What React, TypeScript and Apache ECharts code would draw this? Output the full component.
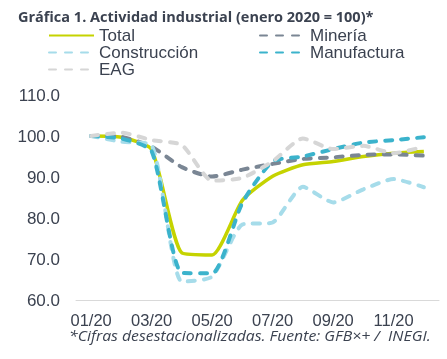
import React, { useEffect, useRef } from "react";
import * as echarts from "echarts";

const months = ["01/20", "02/20", "03/20", "04/20", "05/20", "06/20", "07/20", "08/20", "09/20", "10/20", "11/20", "12/20"];
const total = [100, 99.7, 96.7, 71.5, 71.0, 84.3, 90.2, 93.0, 93.8, 95.0, 95.8, 96.2];
const mineria = [100, 99.8, 97.4, 92.4, 90.1, 91.8, 93.2, 94.4, 94.8, 95.4, 95.5, 95.2];
const construccion = [100, 98.6, 97.7, 64.5, 65.7, 78.4, 78.9, 87.6, 83.8, 87.0, 89.5, 87.5];
const manufactura = [100, 99.4, 96.3, 66.6, 66.5, 83.7, 93.8, 95.0, 96.8, 98.4, 99.0, 99.7];
const eag = [100, 100.8, 99.0, 97.8, 89.1, 89.8, 93.8, 99.4, 96.8, 97.6, 95.8, 97.4];

const yTicks = { min: 60, max: 110, interval: 10 };

const TXT = "#3b4250";
const FONT = "'Liberation Sans', Arial, sans-serif";

export default function App() {
  const ref = useRef<HTMLDivElement>(null);
  useEffect(() => {
    if (!ref.current) return;
    const chart = echarts.init(ref.current, undefined, { renderer: "svg" });
    const dash = (color: string, data: number[], name: string) => ({
      name,
      type: "line",
      data,
      symbol: "none",
      smooth: 0.2,
      lineStyle: { color, width: 4, type: [7, 9], cap: "round" },
      itemStyle: { color },
    });
    const legendBase = {
      orient: "vertical",
      top: 27,
      padding: 0,
      itemWidth: 45,
      itemHeight: 17,
      itemGap: 0,
      itemStyle: { opacity: 0 },
      textStyle: { fontFamily: FONT, fontSize: 17, color: TXT, lineHeight: 17 },
    };
    chart.setOption({
      animation: false,
      title: {
        text: "Gráfica 1. Actividad industrial (enero 2020 = 100)*",
        left: 13,
        top: 4,
        textStyle: { fontFamily: "'Open Sans', sans-serif", fontWeight: "bold", fontSize: 14.5, color: TXT },
      },
      legend: [
        { ...legendBase, data: ["Total", "Construcción", "EAG"], left: 48 },
        { ...legendBase, data: ["Minería", "Manufactura"], left: 259 },
      ],
      grid: { left: 76, right: 8, top: 95, bottom: 59, containLabel: false },
      xAxis: {
        type: "category",
        data: months,
        boundaryGap: true,
        axisLine: { lineStyle: { color: "#d9d9d9", width: 1 } },
        axisTick: { show: false },
        axisLabel: {
          interval: 1,
          margin: 12,
          fontFamily: FONT,
          fontSize: 16.5,
          lineHeight: 16,
          color: TXT,
        },
      },
      yAxis: {
        type: "value",
        min: yTicks.min,
        max: yTicks.max,
        interval: yTicks.interval,
        splitLine: { show: false },
        axisLine: { show: false },
        axisTick: { show: false },
        axisLabel: {
          margin: 16,
          fontFamily: FONT,
          fontSize: 17,
          color: TXT,
          formatter: (v: number) => v.toFixed(1),
        },
      },
      graphic: [
        {
          type: "text",
          x: 69,
          y: 328,
          scaleX: 1.13,
          style: {
            text: "*Cifras desestacionalizadas. Fuente: GFB×+ /  INEGI.",
            font: "italic 14px 'Open Sans', sans-serif",
            lineHeight: 14,
            fill: TXT,
          },
        },
      ],
      series: [
        {
          name: "Total",
          type: "line",
          data: total,
          symbol: "none",
          smooth: 0.2,
          lineStyle: { color: "#c5d300", width: 3.5 },
          itemStyle: { color: "#c5d300" },
        },
        dash("#7a8694", mineria, "Minería"),
        dash("#a6dcea", construccion, "Construcción"),
        dash("#3bb3cc", manufactura, "Manufactura"),
        dash("#d6d6d6", eag, "EAG"),
      ],
    });
    return () => chart.dispose();
  }, []);
  return <div ref={ref} style={{ position: "fixed", left: 0, top: 0, width: 447, height: 359 }} />;
}
